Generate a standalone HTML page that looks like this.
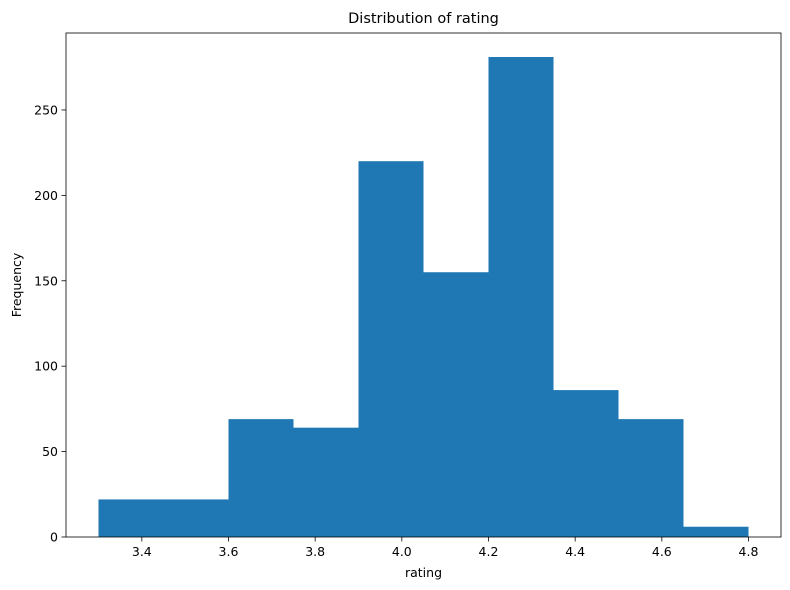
<!DOCTYPE html>
<html><head><meta charset="utf-8">
<style>
html,body{margin:0;padding:0;background:#fff;}
svg{display:block;font-family:"DejaVu Sans","Liberation Sans",sans-serif;}
</style></head>
<body>
<svg id="chart" width="790" height="590" viewBox="0 0 790 590"></svg>
<script>
const binEdges = [3.3,3.45,3.6,3.75,3.9,4.05,4.2,4.35,4.5,4.65,4.8];
const counts = [22,22,69,64,220,155,281,86,69,6];
const xTicks = [3.4,3.6,3.8,4.0,4.2,4.4,4.6,4.8];
const yTicks = [0,50,100,150,200,250];

const L=66,R=781,T=33,B=537;
const xmin=3.225,xmax=4.875,ymax=295.05;
const sx=v=>L+(v-xmin)/(xmax-xmin)*(R-L);
const sy=v=>B-v/ymax*(B-T);
const svg=document.getElementById('chart');
const NS='http://www.w3.org/2000/svg';
function mk(tag,attrs,parent){const e=document.createElementNS(NS,tag);for(const k in attrs)e.setAttribute(k,attrs[k]);(parent||svg).appendChild(e);return e;}

const bars=mk('g',{});


counts.forEach((c,i)=>{
  const x0=sx(binEdges[i]),x1=sx(binEdges[i+1]);
  const r=mk('rect',{x:x0,y:sy(c),width:x1-x0,height:B-sy(c),fill:'#1f77b4'},bars);
  
  
});

const frame=mk('rect',{x:L,y:T,width:R-L,height:B-T,fill:'none',stroke:'#000','stroke-width':0.8});



xTicks.forEach(v=>{
  const x=sx(v);
  mk('line',{x1:x,x2:x,y1:B,y2:B+4.5,stroke:'#000','stroke-width':0.8});
  const t=mk('text',{x:x,y:B+19,'text-anchor':'middle','font-size':12.5});
  t.textContent=v.toFixed(1);
  
  
});
yTicks.forEach(v=>{
  const y=sy(v);
  mk('line',{x1:L-4.5,x2:L,y1:y,y2:y,stroke:'#000','stroke-width':0.8});
  const t=mk('text',{x:L-8,y:y+4.5,'text-anchor':'end','font-size':12.5});
  t.textContent=v;
  
  
});

const title=mk('text',{x:(L+R)/2,y:T-10,'text-anchor':'middle','font-size':14.5});
title.textContent='Distribution of rating';



const xl=mk('text',{x:(L+R)/2,y:B+40,'text-anchor':'middle','font-size':12.5});
xl.textContent='rating';



const yl=mk('text',{x:0,y:0,'text-anchor':'middle','font-size':12.5,transform:'translate(21,'+((T+B)/2)+') rotate(-90)'});
yl.textContent='Frequency';


</script>
</body></html>
